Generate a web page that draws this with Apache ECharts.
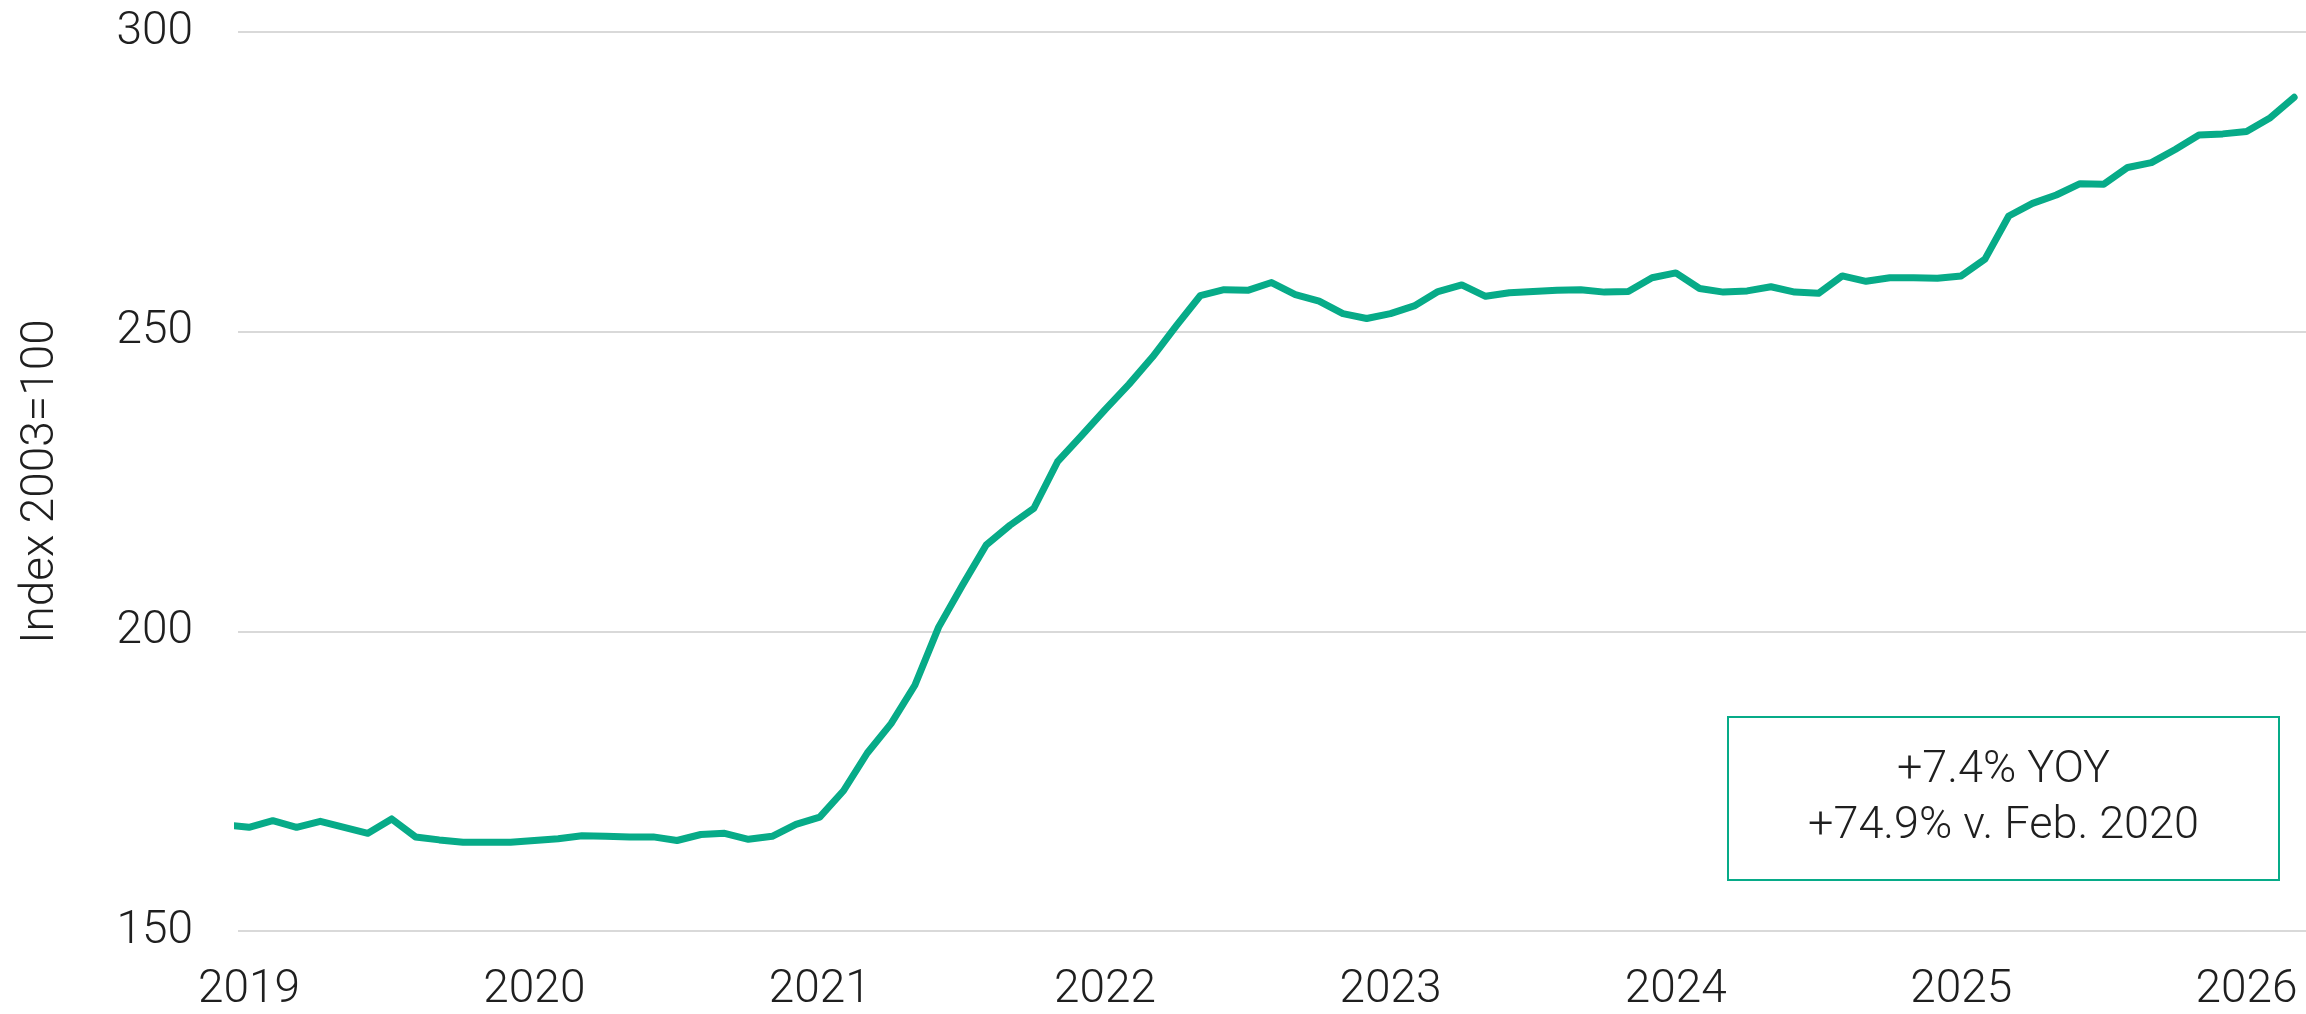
<!DOCTYPE html>
<html>
<head>
<meta charset="utf-8">
<script src="https://cdn.jsdelivr.net/npm/echarts@6/dist/echarts.min.js"></script>
<style>
html,body{margin:0;padding:0;background:#fff;}
#chart{width:2306px;height:1014px;}
</style>
</head>
<body>
<div id="chart"></div>
<script>
// Monthly observations, Dec 2018 .. Mar 2026 (Dec 2018 lies just left of the axis start and is clipped)
const months = [
  '2018-12',
  '2019-01','2019-02','2019-03','2019-04','2019-05','2019-06','2019-07','2019-08','2019-09','2019-10','2019-11','2019-12',
  '2020-01','2020-02','2020-03','2020-04','2020-05','2020-06','2020-07','2020-08','2020-09','2020-10','2020-11','2020-12',
  '2021-01','2021-02','2021-03','2021-04','2021-05','2021-06','2021-07','2021-08','2021-09','2021-10','2021-11','2021-12',
  '2022-01','2022-02','2022-03','2022-04','2022-05','2022-06','2022-07','2022-08','2022-09','2022-10','2022-11','2022-12',
  '2023-01','2023-02','2023-03','2023-04','2023-05','2023-06','2023-07','2023-08','2023-09','2023-10','2023-11','2023-12',
  '2024-01','2024-02','2024-03','2024-04','2024-05','2024-06','2024-07','2024-08','2024-09','2024-10','2024-11','2024-12',
  '2025-01','2025-02','2025-03','2025-04','2025-05','2025-06','2025-07','2025-08','2025-09','2025-10','2025-11','2025-12',
  '2026-01','2026-02','2026-03'
];
const indexValues = [
  167.7,
  167.3,168.4,167.3,168.3,167.3,166.3,168.7,165.7,165.2,164.8,164.8,164.8,
  165.1,165.4,165.9,165.8,165.7,165.7,165.1,166.1,166.3,165.3,165.8,167.8,
  169.0,173.4,179.7,184.6,191.0,200.7,207.7,214.4,217.7,220.5,228.3,232.6,
  237.0,241.2,245.8,251.0,256.0,257.0,256.9,258.2,256.2,255.1,253.0,252.2,
  253.0,254.3,256.7,257.8,255.9,256.5,256.7,256.9,257.0,256.6,256.7,259.0,
  259.8,257.2,256.6,256.8,257.5,256.6,256.4,259.3,258.4,259.0,259.0,258.9,
  259.3,262.1,269.3,271.4,272.8,274.7,274.6,277.4,278.2,280.4,282.8,283.0,
  283.4,285.7,289.1
];
const yearLabels = ['2019','2020','2021','2022','2023','2024','2025','2026'];
const yTicks = [150, 200, 250, 300];
const axisTitle = 'Index 2003=100';
const boxLines = ['+7.4% YOY', '+74.9% v. Feb. 2020'];

// x position = months since Jan 2019
const firstYear = 2019;
function monthIndex(s){ const [y,m] = s.split('-').map(Number); return (y-firstYear)*12 + (m-1); }
const seriesData = months.map((m,i) => [monthIndex(m), indexValues[i]]);
const labelPositions = yearLabels.map(y => (Number(y)-firstYear)*12);

const FONT = 'Roboto';
const TEXT = '#1f1f1f';
const GREEN = '#07ab88';

const chart = echarts.init(document.getElementById('chart'), null, {renderer:'canvas'});
chart.setOption({
  animation: false,
  backgroundColor: '#ffffff',
  grid: {left: 238, right: 0, top: 32, bottom: 83},
  xAxis: {
    type: 'value',
    min: -0.4626,
    max: 86.5,
    axisLine: {show: false},
    axisTick: {show: false},
    splitLine: {show: false},
    axisLabel: {
      customValues: labelPositions,
      formatter: v => String(firstYear + Math.round(v/12)),
      fontFamily: FONT, fontWeight: 300, fontSize: 46, color: TEXT,
      margin: 36
    }
  },
  yAxis: {
    type: 'value',
    min: yTicks[0], max: yTicks[yTicks.length-1], interval: 50,
    axisLine: {show: false},
    axisTick: {show: false},
    splitLine: {show: true, lineStyle: {color: '#d9d9d9', width: 2}},
    axisLabel: {fontFamily: FONT, fontWeight: 300, fontSize: 46, color: TEXT, margin: 45},
    name: axisTitle,
    nameLocation: 'middle',
    nameGap: 174,
    nameTextStyle: {fontFamily: FONT, fontWeight: 300, fontSize: 46, color: TEXT}
  },
  series: [{
    type: 'line',
    data: seriesData,
    showSymbol: false,
    clip: true,
    lineStyle: {color: GREEN, width: 7, cap: 'round', join: 'round'},
    itemStyle: {color: GREEN}
  }],
  graphic: [{
    type: 'group',
    left: 1727, top: 716,
    children: [{
      type: 'rect',
      shape: {x: 0, y: 0, width: 551, height: 163},
      style: {fill: '#ffffff', stroke: GREEN, lineWidth: 2}
    }, {
      type: 'text',
      x: 275.5, y: 82,
      style: {
        text: boxLines.join('\n'),
        align: 'center', verticalAlign: 'middle',
        fontFamily: FONT, fontWeight: 300, fontSize: 45, lineHeight: 56,
        fill: TEXT
      }
    }]
  }]
});
</script>
</body>
</html>
